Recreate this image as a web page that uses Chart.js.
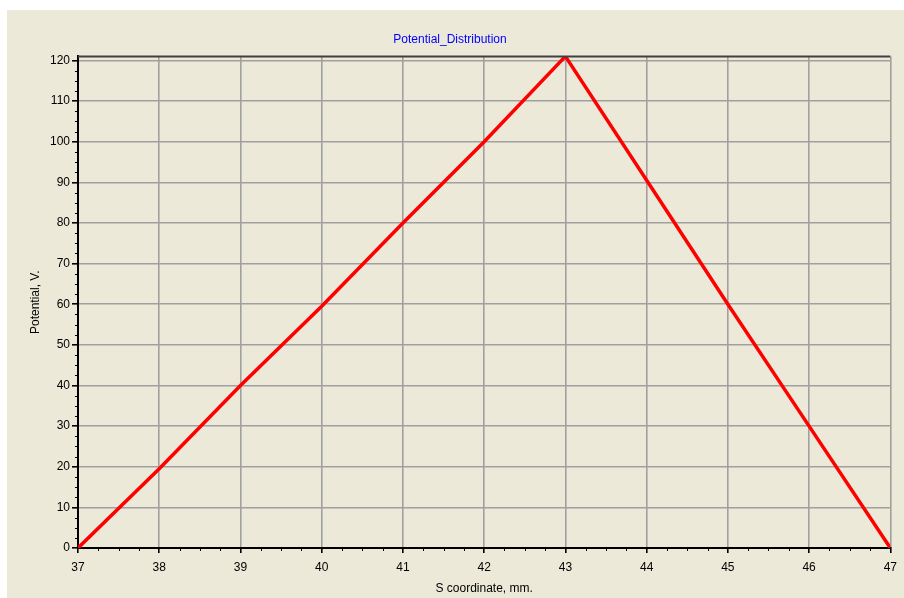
<!DOCTYPE html>
<html lang="en">
<head>
    <meta charset="UTF-8">
    <title>Potential_Distribution</title>
    <style>
        body {
            margin: 0;
            background: #ffffff;
        }
        .frame {
            position: absolute;
            left: 7px;
            top: 10px;
            width: 897px;
            height: 588px;
            background: #ece9d8;
        }
    </style>
</head>
<body>
    <div class="frame">
        <canvas id="chart" width="897" height="588"></canvas>
    </div>

    <script src="https://cdn.jsdelivr.net/npm/chart.js@4/dist/chart.umd.min.js"></script>
    <script>
        // S coordinate (mm) and potential (V)
        const sCoord = [37, 38, 39, 40, 41, 42, 43, 44, 45, 46, 47];
        const potential = [0, 19.5, 40, 59.5, 80, 100, 121, 90.5, 60, 30, 0];

        const xTicks = [37, 38, 39, 40, 41, 42, 43, 44, 45, 46, 47];
        const yTicks = [0, 10, 20, 30, 40, 50, 60, 70, 80, 90, 100, 110, 120];

        const font = { family: 'Liberation Sans, Arial, sans-serif', size: 12, weight: 'normal' };

        // small tick marks between the labelled ones, plus the dark top edge
        const frameMarks = {
            id: 'frameMarks',
            afterDraw(chart) {
                const ctx = chart.ctx;
                const area = chart.chartArea;
                const xs = chart.scales.x;
                const ys = chart.scales.y;
                ctx.save();
                ctx.strokeStyle = '#000';
                ctx.lineWidth = 1;
                ctx.beginPath();
                for (let i = 0; i < xTicks.length - 1; i++) {
                    for (let k = 1; k < 4; k++) {
                        const px = Math.round(xs.getPixelForValue(xTicks[i] + k * 0.25)) + 0.5;
                        ctx.moveTo(px, area.bottom);
                        ctx.lineTo(px, area.bottom + 3);
                    }
                }
                for (let i = 0; i < yTicks.length - 1; i++) {
                    for (let k = 1; k < 4; k++) {
                        const py = Math.round(ys.getPixelForValue(yTicks[i] + k * 2.5)) + 0.5;
                        ctx.moveTo(area.left - 3, py);
                        ctx.lineTo(area.left, py);
                    }
                }
                ctx.stroke();
                ctx.strokeStyle = '#404040';
                ctx.lineWidth = 2;
                ctx.beginPath();
                ctx.moveTo(area.left, area.top);
                ctx.lineTo(area.right, area.top);
                ctx.stroke();
                ctx.restore();
            }
        };

        const ctx = document.getElementById('chart');

        new Chart(ctx, {
            type: 'line',
            data: {
                datasets: [{
                    label: 'Potential',
                    data: sCoord.map((s, i) => ({ x: s, y: potential[i] })),
                    borderColor: '#ff0000',
                    borderWidth: 3.5,
                    pointRadius: 0,
                    fill: false,
                    tension: 0
                }]
            },
            options: {
                responsive: false,
                animation: false,
                devicePixelRatio: 1,
                layout: {
                    padding: { left: 0, right: 11, top: 0, bottom: 0 }
                },
                plugins: {
                    legend: { display: false },
                    tooltip: { enabled: false },
                    title: {
                        display: true,
                        text: 'Potential_Distribution',
                        color: '#0000ff',
                        font: font,
                        padding: { top: 22, bottom: 10 }
                    }
                },
                scales: {
                    x: {
                        type: 'linear',
                        min: 37,
                        max: 47,
                        afterBuildTicks: scale => {
                            scale.ticks = xTicks.map(v => ({ value: v }));
                        },
                        afterFit: scale => { scale.height = 50; },
                        grid: {
                            color: '#a0a0a0',
                            lineWidth: 1.6,
                            tickColor: '#000',
                            tickLength: 5
                        },
                        border: { color: '#000', width: 2 },
                        ticks: {
                            color: '#000',
                            font: font,
                            padding: 7,
                            maxRotation: 0
                        },
                        title: {
                            display: true,
                            text: 'S coordinate, mm.',
                            color: '#000',
                            font: font,
                            padding: { top: 0, bottom: 2 }
                        }
                    },
                    y: {
                        type: 'linear',
                        min: 0,
                        max: 121,
                        afterBuildTicks: scale => {
                            scale.ticks = yTicks.map(v => ({ value: v }));
                        },
                        afterFit: scale => { scale.width = 71; },
                        grid: {
                            color: '#a0a0a0',
                            lineWidth: 1.6,
                            tickColor: '#000',
                            tickLength: 6
                        },
                        border: { color: '#000', width: 2 },
                        ticks: {
                            color: '#000',
                            font: font,
                            padding: 2
                        },
                        title: {
                            display: true,
                            text: 'Potential, V.',
                            color: '#000',
                            font: font,
                            padding: { top: 21, bottom: 0 }
                        }
                    }
                }
            },
            plugins: [frameMarks]
        });
    </script>
</body>
</html>
